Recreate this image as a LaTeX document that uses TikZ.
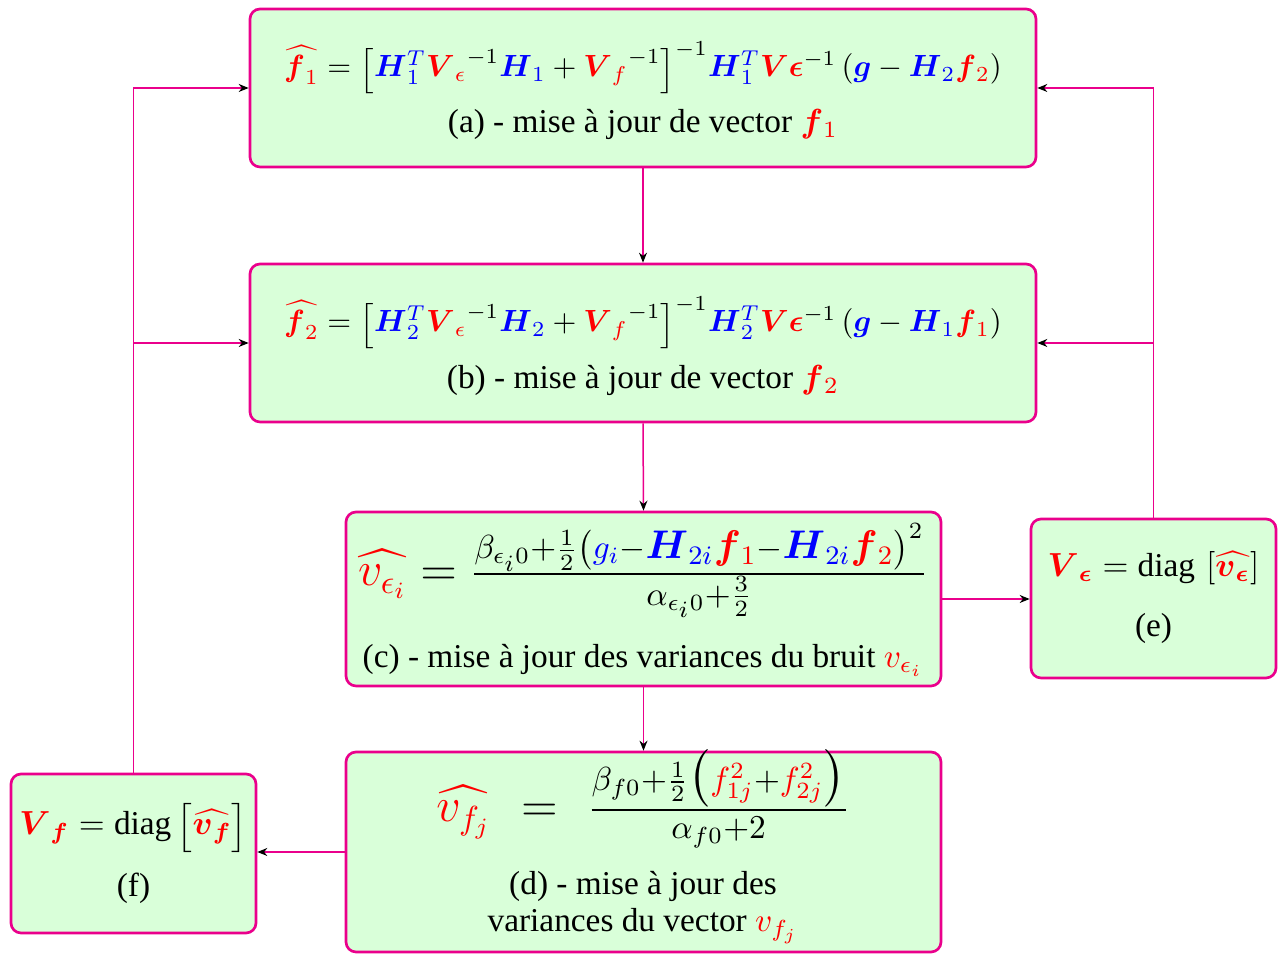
\documentclass[tikz,border=0pt]{standalone}
\usepackage{amsmath}
\usepackage{graphicx}
\usepackage[no-math]{fontspec}
\setmainfont{Liberation Serif}
\usetikzlibrary{arrows.meta,calc}
\definecolor{boxpink}{RGB}{234,0,140}
\definecolor{boxfill}{RGB}{217,255,217}
\newcommand{\Rb}[1]{\textcolor{red}{\boldsymbol{#1}}}
\newcommand{\Bb}[1]{\textcolor{blue}{\boldsymbol{#1}}}
\newcommand{\cb}[1]{\textcolor{blue}{#1}}
\newcommand{\cred}[1]{\textcolor{red}{#1}}
\newcommand{\lbk}{\mathopen{\scalebox{1}[0.82]{$\Bigl[$}}}
\newcommand{\rbk}{\mathclose{\scalebox{1}[0.82]{$\Bigr]$}}}
\newcommand{\lpn}{\mathopen{\mbox{\normalsize$\bigl($}}}
\newcommand{\rpn}{\mathclose{\mbox{\normalsize$\bigr)$}}}
\begin{document}
\begin{tikzpicture}[x=0.3pt,y=-0.3pt,
  stepbox/.style={draw=boxpink, fill=boxfill, line width=0.8pt, rounded corners=3pt, inner sep=0pt},
  conn/.style={draw=boxpink, line width=0.45pt, -{Stealth[black,length=3pt,width=2.4pt]}},
  lbl/.style={anchor=base, inner sep=0pt}]
\useasboundingbox (0,0) rectangle (1281,954);

% boxes
\node[stepbox, minimum width=235.8pt, minimum height=47.4pt] (a) at (643,88) {};
\node[stepbox, minimum width=235.8pt, minimum height=47.4pt] (b) at (643,343) {};
\node[stepbox, minimum width=178.5pt, minimum height=52.2pt] (c) at (643.5,599) {};
\node[stepbox, minimum width=73.5pt, minimum height=47.7pt] (e) at (1153.5,598.5) {};
\node[stepbox, minimum width=178.5pt, minimum height=60pt] (d) at (643.5,852) {};
\node[stepbox, minimum width=73.5pt, minimum height=47.7pt] (f) at (133.5,853.5) {};

% (a)
\node[lbl] (fa) at (643,77) {\scalebox{0.92}{$\cred{\widehat{\boldsymbol{f}_1}} = \lbk\Bb{H}_{\cb{1}}^{\cb{T}} {\Rb{V}_{\cred{\epsilon}}}^{-1} \Bb{H}_{\cb{1}} + {\Rb{V}_{\cred{f}}}^{-1}\rbk^{-1} \Bb{H}_{\cb{1}}^{\cb{T}} \Rb{V}\Rb{\epsilon}^{-1} \left(\Bb{g} - \Bb{H}_{\cb{2}}\Rb{f}_{\cred{2}}\right)$}};
\node[lbl] (ca) at (643,133) {(a) - mise à jour de vector $\Rb{f}_{\cred{1}}$};

% (b)
\node[lbl] (fb) at (643,332) {\scalebox{0.92}{$\cred{\widehat{\boldsymbol{f}_2}} = \lbk\Bb{H}_{\cb{2}}^{\cb{T}} {\Rb{V}_{\cred{\epsilon}}}^{-1} \Bb{H}_{\cb{2}} + {\Rb{V}_{\cred{f}}}^{-1}\rbk^{-1} \Bb{H}_{\cb{2}}^{\cb{T}} \Rb{V}\Rb{\epsilon}^{-1} \left(\Bb{g} - \Bb{H}_{\cb{1}}\Rb{f}_{\cred{1}}\right)$}};
\node[lbl] (cbx) at (643,389) {(b) - mise à jour de vector $\Rb{f}_{\cred{2}}$};

% (c)
\node[lbl] (fc) at (643,586) {\Large$\displaystyle \cred{\widehat{v_{\epsilon_i}}} = \tfrac{\beta_{\epsilon_i 0}+\frac{1}{2}\lpn\cb{g_i}-\mbox{\large$\Bb{H}_{\cb{2i}}\Rb{f}_{\cred{1}}$}-\mbox{\large$\Bb{H}_{\cb{2i}}\Rb{f}_{\cred{2}}$}\rpn^2}{\alpha_{\epsilon_i 0}+\frac{3}{2}}$};
\node[lbl] (cc) at (643,668) {(c) - mise à jour des variances du bruit $\cred{v_{\epsilon_i}}$};

% (e)
\node[lbl] (fe) at (1153.5,577) {$\Rb{V}_{\Rb{\epsilon}} = \text{diag}\,\left[\cred{\widehat{\boldsymbol{v}_{\boldsymbol{\epsilon}}}}\right]$};
\node[lbl] (ce) at (1153.5,637) {(e)};

% (d)
\node[lbl] (fd) at (643,822) {\Large$\displaystyle \cred{\widehat{v_{f_j}}} \hspace{5pt}=\hspace{5pt} \tfrac{\beta_{f0}+\frac{1}{2}\bigl(\cred{f_{1j}^2}+\cred{f_{2j}^2}\bigr)}{\alpha_{f0}+2}$};
\node[lbl] (cd1) at (643,895) {(d) - mise à jour des};
\node[lbl] (cd2) at (643,932) {variances du vector $\cred{v_{f_j}}$};

% (f)
\node[lbl] (ff) at (133.5,835) {$\Rb{V}_{\Rb{f}} = \text{diag}\,\lbk\cred{\widehat{\boldsymbol{v}_{\boldsymbol{f}}}}\rbk$};
\node[lbl] (cf) at (133.5,897) {(f)};

% connectors
\draw[conn] (a.south) -- (b.north);
\draw[conn] (b.south) -- (c.north);
\draw[conn] (c.south) -- (d.north);
\draw[conn] (c.east) -- (c.east -| e.west);
\draw[conn] (e.north) |- (a.east);
\draw[conn] (e.north) |- (b.east);
\draw[conn] (d.west) -- (d.west -| f.east);
\draw[conn] (f.north) |- (a.west);
\draw[conn] (f.north) |- (b.west);
\end{tikzpicture}
\end{document}
